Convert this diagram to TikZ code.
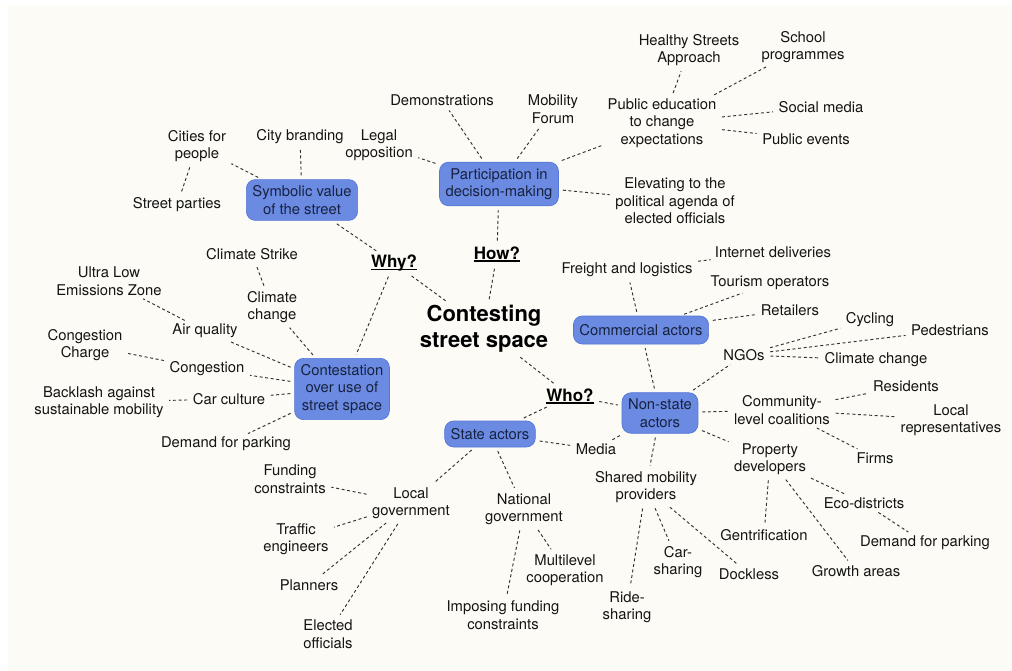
\documentclass[tikz,border=0pt]{standalone}
\usepackage{fontspec}
\setmainfont{TeX Gyre Heros}
\usepackage{xcolor}
\definecolor{kasten}{HTML}{6B8BE3}
\definecolor{kastenrand}{HTML}{5576D8}
\definecolor{navy}{HTML}{18223F}
\definecolor{creme}{HTML}{FCFBF5}
\definecolor{linie}{HTML}{333333}
% Unterstreichung fuer die Fragen
\newcommand{\unterstr}[1]{\setbox0\hbox{#1}\rlap{\rule[-2.6pt]{\wd0}{1.2pt}}\box0}

\begin{document}
\begin{tikzpicture}[x=1pt, y=-1pt,
			txt/.style={align=center, inner sep=1.5pt, text=black!92, font=\fontsize{14.8}{17.5}\selectfont},
			box/.style={txt, draw=kastenrand, fill=kasten, rounded corners=9pt, text=navy, line width=0.7pt, inner xsep=6pt, inner ysep=6pt},
			frage/.style={inner sep=1.5pt, font=\fontsize{17}{20}\bfseries\selectfont},
			verb/.style={draw=linie, line width=0.95pt, dash pattern=on 3pt off 2.6pt, shorten <=4pt, shorten >=4pt}]
			%Hintergrund
			\useasboundingbox (0,0) rectangle (1012,671);
			\fill[white] (0,0) rectangle (1012,671);
			\fill[creme] (8,5) rectangle (1012,671);
			% Zentrum und Fragen
			\node[font=\fontsize{22}{26}\bfseries\selectfont, align=center, inner sep=2pt] (title) at (484,329) {Contesting\\street space};
			\node[frage] (why) at (394,263) {\unterstr{Why?}};
			\node[frage] (how) at (497,254) {\unterstr{How?}};
			\node[frage] (who) at (570,396) {\unterstr{Who?}};
			% Kaesten
			\node[box] (symbolic) at (302,200) {Symbolic value\\of the street};
			\node[box] (particip) at (499,184) {Participation in\\decision-making};
			\node[box] (contest) at (342,389) {Contestation\\over use of\\street space};
			\node[box, minimum height=28pt] (commercial) at (641,330) {Commercial actors};
			\node[box] (nonstate) at (660,413) {Non-state\\actors};
			\node[box, minimum height=26pt] (state) at (490,434) {State actors};
			% Why? - Beschriftung
			\node[txt] (branding) at (300,137) {City branding};
			\node[txt] (citiesppl) at (197,146) {Cities for\\people};
			\node[txt] (parties) at (177,205) {Street parties};
			\node[txt] (climstrike) at (252,254) {Climate Strike};
			\node[txt] (climchange) at (272,307) {Climate\\change};
			\node[txt] (ulez) at (109,281) {Ultra Low\\Emissions Zone};
			\node[txt] (airq) at (205,331) {Air quality};
			\node[txt] (congcharge) at (85,345) {Congestion\\Charge};
			\node[txt] (congestion) at (207,369) {Congestion};
			\node[txt] (carcult) at (229,399) {Car culture};
			\node[txt] (backlash) at (99,402) {Backlash against\\sustainable mobility};
			\node[txt] (parkingl) at (226,444) {Demand for parking};
			% How? - Beschriftung
			\node[txt] (legal) at (379,145) {Legal\\opposition};
			\node[txt] (demo) at (442,100) {Demonstrations};
			\node[txt] (mobforum) at (553,109) {Mobility\\Forum};
			\node[txt] (pubedu) at (662,123) {Public education\\to change\\expectations};
			\node[txt] (healthy) at (689,50) {Healthy Streets\\Approach};
			\node[txt] (school) at (803,47) {School\\programmes};
			\node[txt] (socmedia) at (821,107) {Social media};
			\node[txt] (pubevents) at (806,139) {Public events};
			\node[txt] (elevating) at (675,201) {Elevating to the\\political agenda of\\elected officials};
			% Who? - Beschriftung
			\node[txt] (localgov) at (411,503) {Local\\government};
			\node[txt] (funding) at (290,479) {Funding\\constraints};
			\node[txt] (traffic) at (296,539) {Traffic\\engineers};
			\node[txt] (planners) at (309,585) {Planners};
			\node[txt] (elected) at (328,634) {Elected\\officials};
			\node[txt] (natgov) at (524,509) {National\\government};
			\node[txt] (multilevel) at (565,570) {Multilevel\\cooperation};
			\node[txt] (imposing) at (503,615) {Imposing funding\\constraints};
			\node[txt] (media) at (596,449) {Media};
			\node[txt] (shared) at (646,487) {Shared mobility\\providers};
			\node[txt] (ride) at (627,607) {Ride-\\sharing};
			\node[txt] (carshare) at (678,562) {Car-\\sharing};
			\node[txt] (dockless) at (749,574) {Dockless};
			\node[txt] (property) at (770,459) {Property\\developers};
			\node[txt] (gentri) at (764,535) {Gentrification};
			\node[txt] (growth) at (856,571) {Growth areas};
			\node[txt] (eco) at (864,503) {Eco-districts};
			\node[txt] (parkingr) at (925,543) {Demand for parking};
			\node[txt] (community) at (782,410) {Community-\\level coalitions};
			\node[txt] (residents) at (906,386) {Residents};
			\node[txt] (localrep) at (951,420) {Local\\representatives};
			\node[txt] (firms) at (875,458) {Firms};
			\node[txt] (ngos) at (744,355) {NGOs};
			\node[txt] (cycling) at (870,320) {Cycling};
			\node[txt] (pedestrians) at (950,330) {Pedestrians};
			\node[txt] (climchanger) at (876,360) {Climate change};
			\node[txt] (freight) at (627,270) {Freight and logistics};
			\node[txt] (internet) at (773,252) {Internet deliveries};
			\node[txt] (tourism) at (770,283) {Tourism operators};
			\node[txt] (retailers) at (790,310) {Retailers};
			%Verbindungen zeichnen
			\foreach \a/\b in {title/why, title/how, title/who, why/symbolic, why/contest, how/particip, who/state, who/nonstate,
					symbolic/branding, symbolic/citiesppl, citiesppl/parties,
					contest/climchange, climchange/climstrike, contest/airq, airq/ulez, contest/congestion, congestion/congcharge,
					contest/carcult, carcult/backlash, contest/parkingl,
					particip/legal, particip/demo, particip/mobforum, particip/pubedu, particip/elevating,
					pubedu/healthy, pubedu/school, pubedu/socmedia, pubedu/pubevents,
					state/localgov, state/natgov, state/media, nonstate/media,
					localgov/funding, localgov/traffic, localgov/planners, localgov/elected,
					natgov/multilevel, natgov/imposing,
					nonstate/commercial, nonstate/ngos, nonstate/community, nonstate/property, nonstate/shared,
					commercial/freight, commercial/tourism, commercial/retailers, freight/internet,
					ngos/cycling, ngos/pedestrians, ngos/climchanger,
					community/residents, community/localrep, community/firms,
					property/eco, property/gentri, property/growth, eco/parkingr,
					shared/ride, shared/carshare, shared/dockless}
				\draw[verb] (\a) -- (\b);
		\end{tikzpicture}
\end{document}
